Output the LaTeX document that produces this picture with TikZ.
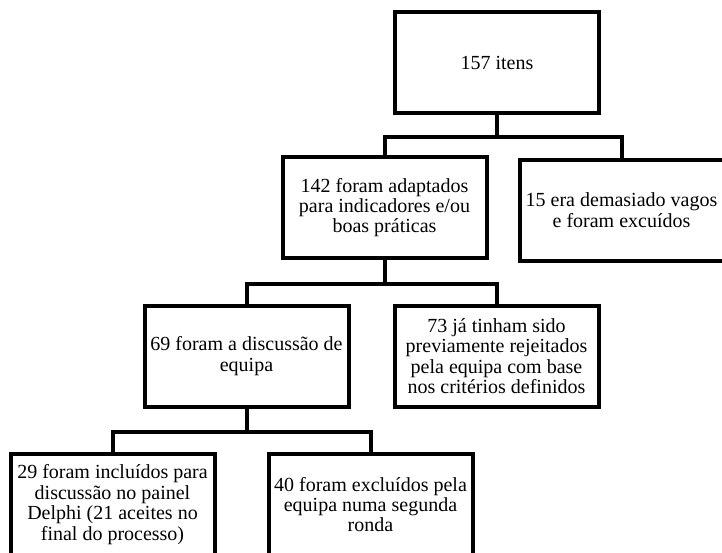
\documentclass[tikz,border=0pt]{standalone}
\usepackage{fontspec}
\setmainfont{Liberation Serif}
\usetikzlibrary{positioning}

\begin{document}
\begin{tikzpicture}[x=1pt, y=1pt,
    box/.style={draw, line width=4pt, minimum width=204pt, minimum height=101pt,
      align=center, inner sep=2pt, font=\fontsize{20}{20.4}\selectfont}]
  \useasboundingbox (0,0) rectangle (722,-552);
  \clip (0,0) rectangle (722,-552);

  \node[box] (itens) at (497,-62.5) {157 itens};
  \node[box] (adapt) at (384.5,-207.5) {142 foram adaptados\\para indicadores e/ou\\boas práticas};
  \node[box] (vagos) at (621.5,-210) {15 era demasiado vagos\\e foram excuídos};
  \node[box] (discu) at (246.5,-356) {69 foram a discussão de\\equipa};
  \node[box] (rejei) at (496.5,-356) {73 já tinham sido\\previamente rejeitados\\pela equipa com base\\nos critérios definidos};
  \node[box] (delph) at (112.5,-504.5) {29 foram incluídos para\\discussão no painel\\Delphi (21 aceites no\\final do processo)};
  \node[box] (exclu) at (370.5,-504.5) {40 foram excluídos pela\\equipa numa segunda\\ronda};

  \begin{scope}[line width=4pt]
    \draw (itens.south) -- ++(0,-22) -| (adapt.north);
    \draw (itens.south) -- ++(0,-22) -| (vagos.north);
    \draw (adapt.south) -- ++(0,-24) -| (discu.north);
    \draw (adapt.south) -- ++(0,-24) -| (rejei.north);
    \draw (discu.south) -- ++(0,-23.5) -| (delph.north);
    \draw (discu.south) -- ++(0,-23.5) -| (exclu.north);
  \end{scope}
\end{tikzpicture}
\end{document}
